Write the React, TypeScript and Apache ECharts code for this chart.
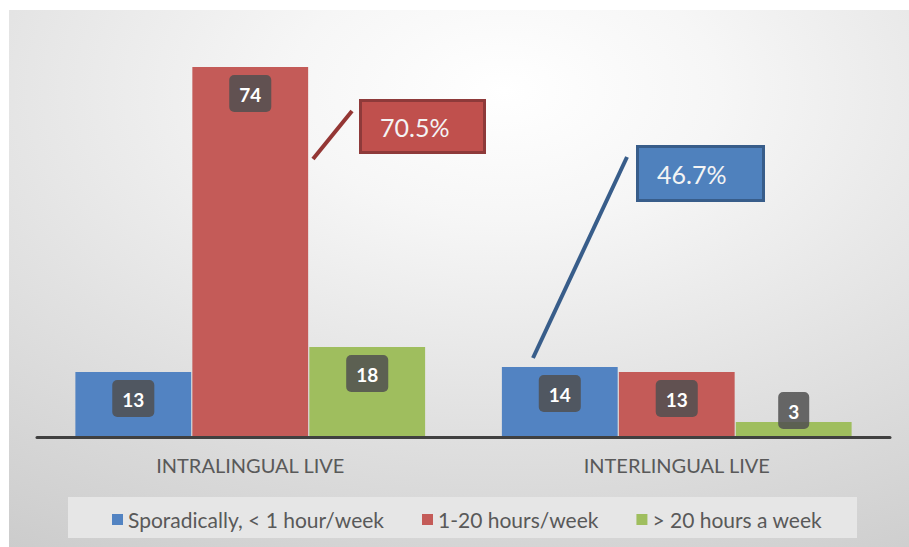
import React, { useEffect, useRef } from "react";
import * as echarts from "echarts";

const categories = ["INTRALINGUAL LIVE", "INTERLINGUAL LIVE"];
const seriesNames = ["Sporadically, < 1 hour/week", "1-20 hours/week", "> 20 hours a week"];
const sporadic = [13, 14];
const mid = [74, 13];
const heavy = [18, 3];
const seriesColors = ["#5283c2", "#c45b58", "#9fbe5e"];
const calloutTexts = ["70.5%", "46.7%"];

const FONT = "Lato, 'Noto Sans', sans-serif";

export default function App() {
  const ref = useRef<HTMLDivElement>(null);
  useEffect(() => {
    if (!ref.current) return;
    const chart = echarts.init(ref.current, null, { renderer: "svg" });
    const labelBase = {
      show: true,
      position: "insideTop",
      distance: 8,
      color: "#ffffff",
      fontFamily: FONT,
      fontWeight: "bold",
      fontSize: 19,
      lineHeight: 20,
      backgroundColor: "rgba(80,80,80,0.85)",
      borderRadius: 5,
      padding: [9, 10, 8, 10],
    };
    const mkData = (arr: number[]) =>
      arr.map((v) =>
        v < 6
          ? { value: v, label: { position: "top", distance: 0, offset: [0, 7] } }
          : { value: v }
      );
    const allData = [sporadic, mid, heavy];
    const series = allData.map((d, i) => ({
      name: seriesNames[i],
      type: "bar",
      data: mkData(d),
      barGap: "1%",
      barCategoryGap: "18%",
      itemStyle: { color: seriesColors[i] },
      label: labelBase,
    }));

    chart.setOption({
      animation: false,
      backgroundColor: "#ffffff",
      textStyle: { fontFamily: FONT },
      grid: { left: 37, right: 19, top: 37, bottom: 110, containLabel: false },
      xAxis: {
        type: "category",
        data: categories,
        axisTick: { show: false },
        axisLine: { lineStyle: { color: "#404040", width: 3 } },
        axisLabel: { color: "#595959", fontSize: 20, fontFamily: FONT, margin: 18 },
        z: 5,
      },
      yAxis: {
        type: "value",
        min: 0,
        max: 80,
        show: false,
        splitLine: { show: false },
      },
      legend: {
        left: 107,
        top: 504,
        itemWidth: 11,
        itemHeight: 11,
        itemGap: 38,
        icon: "rect",
        textStyle: { color: "#595959", fontSize: 21, fontFamily: FONT },
        data: seriesNames,
      },
      graphic: [
        {
          type: "rect",
          z: -10,
          silent: true,
          shape: { x: 9, y: 10, width: 900, height: 537 },
          style: {
            fill: {
              type: "radial",
              x: 0.55,
              y: 0.15,
              r: 1.2,
              colorStops: [
                { offset: 0, color: "#ffffff" },
                { offset: 0.2, color: "#f6f6f6" },
                { offset: 0.5, color: "#e2e2e2" },
                { offset: 1, color: "#c2c2c2" },
              ],
            },
          },
        },
        {
          type: "rect",
          z: -9,
          silent: true,
          shape: { x: 68, y: 497, width: 789, height: 41 },
          style: { fill: "#e6e6e6" },
        },
        {
          type: "line",
          z: 10,
          shape: { x1: 313, y1: 159, x2: 352, y2: 111 },
          style: { stroke: "#943634", lineWidth: 4 },
        },
        {
          type: "rect",
          z: 10,
          shape: { x: 360.5, y: 100.5, width: 124, height: 52 },
          style: { fill: "#c0504d", stroke: "#8e3a3a", lineWidth: 3 },
        },
        {
          type: "text",
          z: 11,
          x: 380,
          y: 127,
          style: {
            text: calloutTexts[0],
            fill: "#f4f4f4",
            fontSize: 25,
            fontFamily: FONT,
            verticalAlign: "middle",
            align: "left",
          },
        },
        {
          type: "line",
          z: 10,
          shape: { x1: 533, y1: 358, x2: 627, y2: 157 },
          style: { stroke: "#385d8a", lineWidth: 4 },
        },
        {
          type: "rect",
          z: 10,
          shape: { x: 637.5, y: 146.5, width: 126, height: 54 },
          style: { fill: "#4f81bd", stroke: "#385d8a", lineWidth: 3 },
        },
        {
          type: "text",
          z: 11,
          x: 657,
          y: 174,
          style: {
            text: calloutTexts[1],
            fill: "#f4f4f4",
            fontSize: 25,
            fontFamily: FONT,
            verticalAlign: "middle",
            align: "left",
          },
        },
      ],
      series,
    });
    return () => chart.dispose();
  }, []);
  return (
    <div
      ref={ref}
      style={{ position: "fixed", left: 0, top: 0, width: 909, height: 547 }}
    />
  );
}
